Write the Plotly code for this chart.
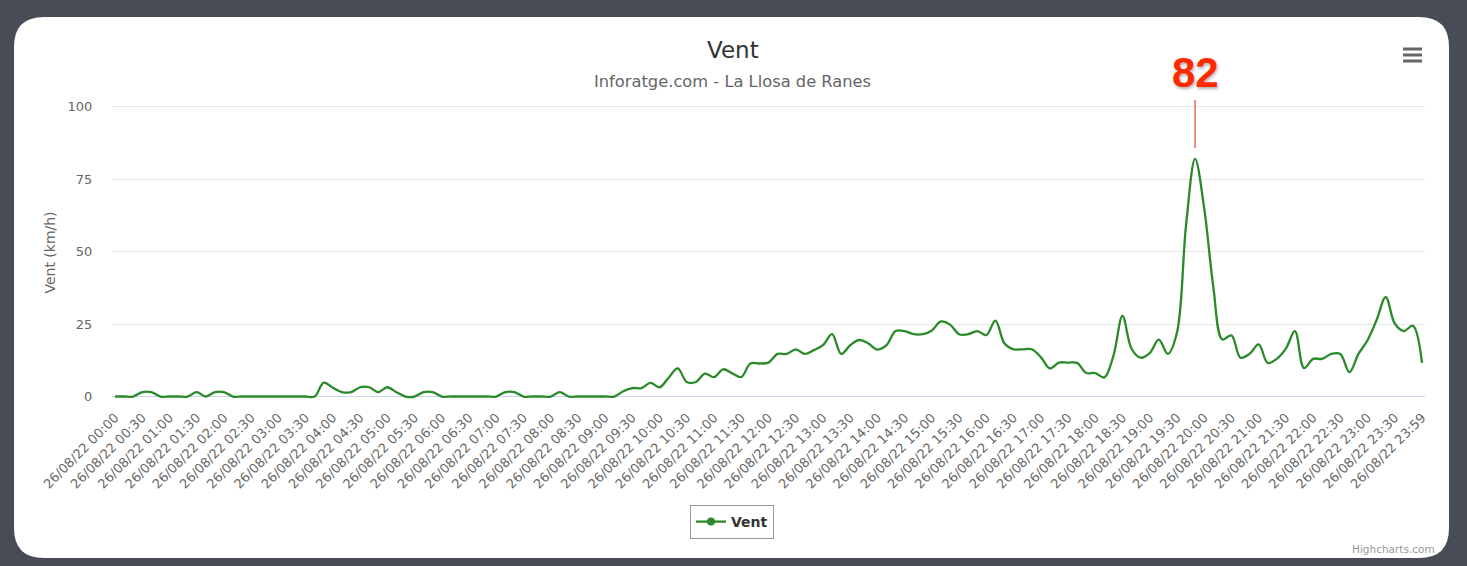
import plotly.graph_objects as go

# ---------------- data ----------------
categories = [f"26/08/22 {h:02d}:{m:02d}" for h in range(24) for m in range(0, 60, 10)] + ["26/08/22 23:59"]

vent = [
    0, 0, 0, 1.5, 1.5, 0, 0, 0, 0, 1.5,
    0, 1.5, 1.5, 0, 0, 0, 0, 0, 0, 0,
    0, 0, 0, 4.8, 3, 1.5, 1.5, 3.2, 3.2, 1.5,
    3.2, 1.5, 0, 0, 1.5, 1.5, 0, 0, 0, 0,
    0, 0, 0, 1.5, 1.5, 0, 0, 0, 0, 1.5,
    0, 0, 0, 0, 0, 0, 1.8, 2.9, 2.9, 4.7,
    3.2, 6.5, 9.7, 5, 5, 7.9, 6.7, 9.4, 8, 6.7,
    11.4, 11.4, 11.7, 14.7, 14.7, 16.3, 14.7, 16, 17.7, 21.5,
    14.7, 17.7, 19.5, 18.3, 16.2, 17.7, 22.6, 22.6, 21.5, 21.5,
    22.8, 25.9, 24.8, 21.5, 21.5, 22.6, 21.2, 26.2, 18.3, 16.3,
    16.3, 16.3, 13.6, 9.7, 11.7, 11.7, 11.6, 8.1, 8.1, 6.6,
    14, 27.8, 16.5, 13.4, 15, 19.6, 14.7, 22, 59, 82,
    65, 38, 19.7, 21.1, 13.4, 14.7, 18, 11.6, 13, 16.5,
    22.6, 9.8, 13, 13, 14.7, 14.7, 8.4, 14.7, 19.4, 26.4,
    34.3, 25.2, 22.6, 24.4, 11.6,
]
assert len(vent) == len(categories)

tick_labels = categories[::3]
y_ticks = [0, 25, 50, 75, 100]

# ---------------- layout geometry ----------------
W, H = 1467, 566
ML, MR, MT, MB = 112, 42, 105, 166
PW, PH = W - ML - MR, H - MT - MB


def px(x):
    return (x - ML) / PW


def py(y):
    return (H - MB - y) / PH


FONT = "DejaVu Sans"
LINE_COLOR = "#2a8a2a"
BG = "#484c56"

fig = go.Figure()
fig.add_trace(go.Scatter(
    x=categories, y=vent, mode="lines", name="Vent", showlegend=False,
    line=dict(color=LINE_COLOR, width=2.3, shape="spline", smoothing=1.0),
    hoverinfo="x+y",
))
# legend entry
fig.add_trace(go.Scatter(
    x=[None], y=[None], mode="lines+markers", name="Vent",
    line=dict(color=LINE_COLOR, width=2.3),
    marker=dict(color=LINE_COLOR, size=8, symbol="circle"),
))

# rounded white card
x0, x1, y0, y1, r = 14, 1449, 17, 558, 30
rx = r / PW
ry = r / PH
X0, X1, Y0, Y1 = px(x0), px(x1), py(y0), py(y1)
path = (
    f"M {X0+rx},{Y0} L {X1-rx},{Y0} Q {X1},{Y0} {X1},{Y0-ry} "
    f"L {X1},{Y1+ry} Q {X1},{Y1} {X1-rx},{Y1} "
    f"L {X0+rx},{Y1} Q {X0},{Y1} {X0},{Y1+ry} "
    f"L {X0},{Y0-ry} Q {X0},{Y0} {X0+rx},{Y0} Z"
)
shapes = [dict(type="path", xref="paper", yref="paper", path=path,
               fillcolor="white", line=dict(width=0), layer="below")]
# hamburger menu icon
for yy in (49, 55, 61):
    shapes.append(dict(type="line", xref="paper", yref="paper",
                       x0=px(1403), x1=px(1422), y0=py(yy), y1=py(yy),
                       line=dict(color="#666666", width=3)))

imax = max(range(len(vent)), key=lambda i: vent[i])
annotations = [
    dict(xref="paper", yref="paper", x=px(733), y=py(50), text="Vent", showarrow=False,
         xanchor="center", yanchor="middle", font=dict(family=FONT, size=23, color="#333333")),
    dict(xref="paper", yref="paper", x=px(732), y=py(82), text="Inforatge.com - La Llosa de Ranes",
         showarrow=False, xanchor="center", yanchor="middle",
         font=dict(family=FONT, size=16.3, color="#666666")),
    dict(xref="paper", yref="paper", x=px(1437), y=py(549), text="Highcharts.com", showarrow=False,
         xanchor="right", yanchor="middle", font=dict(family=FONT, size=10.5, color="#999999")),
    dict(xref="x", yref="y", x=categories[imax], y=vent[imax], text=f"<b>{vent[imax]:g}</b>",
         showarrow=True, arrowhead=0, arrowwidth=1.5, arrowcolor="#e07060", standoff=11,
         ax=0, ay=-86, borderpad=3,
         font=dict(family="Liberation Sans", size=42, color="#ff2a00",
                   shadow="1px 2px 3px rgba(0,0,0,0.3)")),
]

fig.update_layout(
    width=W, height=H, autosize=False,
    margin=dict(l=ML, r=MR, t=MT, b=MB),
    paper_bgcolor=BG, plot_bgcolor="white",
    font=dict(family=FONT, color="#666666"),
    shapes=shapes, annotations=annotations,
    legend=dict(orientation="h", x=px(732), xanchor="center", y=py(505), yanchor="top",
                bgcolor="white", bordercolor="#999999", borderwidth=1, itemwidth=30,
                font=dict(family=FONT, size=14, color="#333333", weight="bold")),
    xaxis=dict(
        type="category", range=[-0.33, len(categories) - 1 + 0.33],
        tickmode="array", tickvals=tick_labels, ticktext=tick_labels, tickangle=-45,
        tickfont=dict(family=FONT, size=13, color="#666666"),
        ticks="outside", ticklen=4, tickcolor="rgba(0,0,0,0)",
        showgrid=False, zeroline=False, showline=False,
    ),
    yaxis=dict(
        range=[-1.2, 100.6], tickmode="array", tickvals=y_ticks,
        tickfont=dict(family=FONT, size=13, color="#666666"),
        ticks="outside", ticklen=16, tickcolor="rgba(0,0,0,0)",
        showgrid=True, gridcolor="#e6e6e6", gridwidth=1,
        zeroline=True, zerolinecolor="#ccd6eb", zerolinewidth=1,
        title=dict(text="Vent (km/h)", standoff=8, font=dict(family=FONT, size=14, color="#666666")),
    ),
)

fig.write_html(
    "out.html",
    config={"displayModeBar": False},
    post_script=(
        "document.documentElement.style.margin='0';"
        "document.body.style.margin='0';document.body.style.padding='0';"
        f"document.body.style.background='{BG}';"
    ),
)
